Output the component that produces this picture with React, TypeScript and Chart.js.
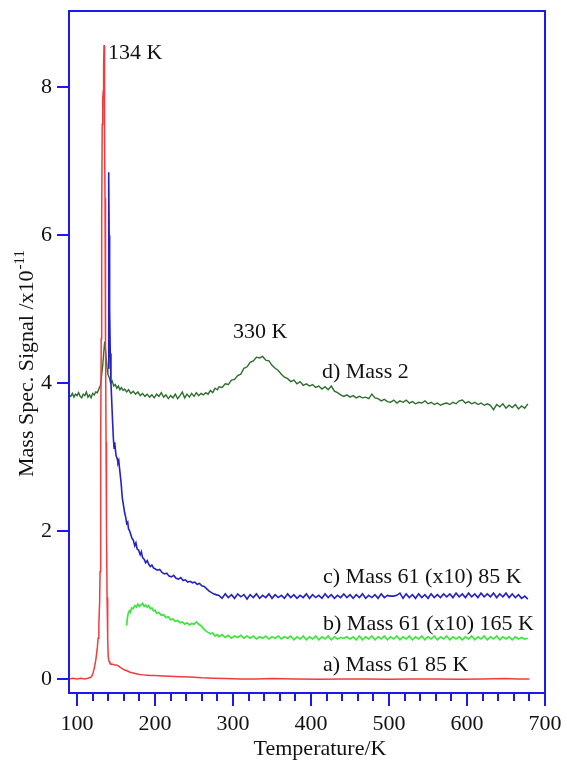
import React, { useEffect, useRef } from 'react';
import { Chart, registerables } from 'chart.js';

Chart.register(...registerables);

const FONT = '"Liberation Serif", "Times New Roman", serif';
const W = 567;
const H = 761;
const AREA = { left: 69, top: 11, right: 545, bottom: 693 };
const FRAME = '#1a1aee';

// axis ranges and ticks
const xRange = [89.7, 700];
const yRange = [-0.19, 9.03];
const xMajorTicks = [100, 200, 300, 400, 500, 600, 700];
const xMinorTicks = [120, 140, 160, 180, 220, 240, 260, 280, 320, 340, 360, 380, 420, 440, 460, 480, 520, 540, 560, 580, 620, 640, 660, 680];
const yTicks = [0, 2, 4, 6, 8];

// a) Mass 61 85 K
const tempsA = [89.5, 95, 100, 105, 110, 114, 117, 119, 120.5, 122, 124, 126, 127, 128, 129, 129.5, 130.3, 131, 131.6, 132.3, 133, 133.6, 134.1, 134.6, 135.1, 135.5, 135.9, 136.5, 137.2, 137.8, 138.5, 139.3, 140, 141, 142, 144, 146, 148, 150, 152.6, 155, 158, 161, 164, 168, 172, 176, 180, 185, 190, 195, 200, 210, 220, 232, 245, 260, 275, 290, 310, 330, 350, 380, 410, 440, 470, 500, 530, 560, 590, 620, 650, 665, 680];
const valuesA = [0.0, 0.01, 0.0, 0.01, 0.0, 0.01, 0.02, 0.04, 0.08, 0.14, 0.25, 0.42, 0.55, 0.75, 1.05, 1.45, 3.2, 4.6, 6.2, 7.5, 7.85, 7.95, 8.3, 8.57, 8.0, 7.3, 6.5, 4.6, 3.2, 2.0, 1.1, 0.55, 0.3, 0.24, 0.22, 0.2, 0.2, 0.19, 0.19, 0.18, 0.16, 0.14, 0.12, 0.11, 0.09, 0.08, 0.07, 0.06, 0.055, 0.05, 0.045, 0.045, 0.04, 0.035, 0.03, 0.025, 0.015, 0.01, 0.005, 0.0, 0.0, 0.005, 0.0, -0.005, 0.0, 0.0, -0.005, 0.0, 0.0, -0.005, 0.0, 0.005, 0.0, 0.0];

// shared temperature grid for the flat, noisy tails (K)
const tailTemps = [
  282, 286, 290, 294, 298, 302, 306, 310, 314, 318,
  322, 326, 330, 334, 338, 342, 346, 350, 354, 358,
  362, 366, 370, 374, 378, 382, 386, 390, 394, 398,
  402, 406, 410, 414, 418, 422, 426, 430, 434, 438,
  442, 446, 450, 454, 458, 462, 466, 470, 474, 478,
  482, 486, 490, 494, 498, 502, 506, 510, 514, 518,
  522, 526, 530, 534, 538, 542, 546, 550, 554, 558,
  562, 566, 570, 574, 578, 582, 586, 590, 594, 598,
  602, 606, 610, 614, 618, 622, 626, 630, 634, 638,
  642, 646, 650, 654, 658, 662, 666, 670, 674, 678,
];

// c) Mass 61 (x10) 85 K
const tempsC = [140.3, 140.6, 141.2, 141.8, 142.6, 143.5, 144.5, 145.5, 146.6, 147.5, 148.3, 149.2, 150, 151.5, 152.5, 153.5, 155, 156.5, 158, 159.5, 161, 162.5, 163.7, 165, 166, 167.5, 169, 170.5, 172, 174, 175.5, 177, 179, 181, 182.5, 184, 186, 188, 190, 192, 194, 196, 198, 200, 203, 206, 209, 212, 215, 218, 221, 224, 227, 230, 233, 236, 239, 242, 245, 248, 251, 254, 257, 260, 263, 266, 269, 272, 275, 278];
const valuesC = [4.2, 6.85, 6.0, 5.0, 4.4, 4.0, 3.75, 3.5, 3.25, 3.12, 3.2, 3.1, 3.02, 2.98, 2.92, 2.95, 2.8, 2.65, 2.45, 2.35, 2.25, 2.18, 2.1, 2.12, 2.03, 2.0, 1.95, 1.9, 1.88, 1.8, 1.84, 1.76, 1.74, 1.68, 1.72, 1.64, 1.62, 1.57, 1.6, 1.55, 1.52, 1.54, 1.5, 1.49, 1.47, 1.48, 1.44, 1.42, 1.43, 1.39, 1.38, 1.4, 1.36, 1.35, 1.37, 1.33, 1.34, 1.31, 1.32, 1.3, 1.31, 1.28, 1.29, 1.26, 1.25, 1.22, 1.19, 1.17, 1.15, 1.14];
const tailC = [
  1.13, 1.09, 1.15, 1.10, 1.14, 1.09, 1.15, 1.11, 1.14, 1.08,
  1.14, 1.10, 1.15, 1.09, 1.13, 1.10, 1.15, 1.09, 1.14, 1.10,
  1.13, 1.09, 1.15, 1.10, 1.14, 1.09, 1.13, 1.10, 1.15, 1.09,
  1.14, 1.10, 1.13, 1.09, 1.15, 1.10, 1.14, 1.09, 1.13, 1.10,
  1.15, 1.10, 1.14, 1.09, 1.14, 1.10, 1.15, 1.09, 1.13, 1.10,
  1.14, 1.09, 1.15, 1.10, 1.13, 1.12, 1.12, 1.13, 1.16, 1.09,
  1.15, 1.10, 1.14, 1.09, 1.15, 1.10, 1.14, 1.09, 1.15, 1.10,
  1.14, 1.10, 1.15, 1.11, 1.15, 1.10, 1.16, 1.11, 1.15, 1.10,
  1.16, 1.11, 1.15, 1.10, 1.16, 1.11, 1.15, 1.11, 1.16, 1.10,
  1.15, 1.11, 1.16, 1.10, 1.15, 1.10, 1.14, 1.09, 1.12, 1.08,
];

// b) Mass 61 (x10) 165 K
const tempsB = [163.6, 164.5, 165.5, 167, 168.5, 170, 172, 174, 176, 178, 180, 182, 184, 186, 188, 190, 192, 194, 196, 198, 200, 202, 205, 208, 211, 214, 217, 220, 223, 226, 229, 232, 235, 238, 241, 244, 247, 250, 253, 256, 259, 262, 265, 268, 271, 274, 277, 280];
const valuesB = [0.72, 0.82, 0.88, 0.92, 0.9, 0.96, 0.95, 0.99, 0.97, 1.01, 0.98, 1.0, 1.02, 0.98, 1.0, 0.97, 0.99, 0.95, 0.96, 0.92, 0.93, 0.89, 0.9, 0.86, 0.87, 0.83, 0.84, 0.8, 0.81, 0.78, 0.79, 0.76, 0.77, 0.74, 0.76, 0.73, 0.75, 0.74, 0.77, 0.74, 0.72, 0.68, 0.65, 0.63, 0.61, 0.62, 0.58, 0.6];
const tailB = [
  0.57, 0.60, 0.56, 0.59, 0.55, 0.58, 0.56, 0.59, 0.55, 0.58,
  0.55, 0.58, 0.54, 0.57, 0.55, 0.58, 0.54, 0.57, 0.55, 0.58,
  0.54, 0.57, 0.55, 0.58, 0.53, 0.57, 0.54, 0.58, 0.53, 0.57,
  0.54, 0.58, 0.53, 0.57, 0.54, 0.58, 0.53, 0.57, 0.54, 0.56,
  0.55, 0.57, 0.54, 0.57, 0.53, 0.58, 0.53, 0.57, 0.54, 0.58,
  0.53, 0.57, 0.54, 0.58, 0.53, 0.57, 0.54, 0.58, 0.53, 0.57,
  0.54, 0.58, 0.53, 0.57, 0.54, 0.58, 0.53, 0.57, 0.54, 0.58,
  0.53, 0.57, 0.54, 0.58, 0.53, 0.57, 0.54, 0.57, 0.53, 0.57,
  0.54, 0.58, 0.53, 0.57, 0.54, 0.58, 0.53, 0.57, 0.54, 0.58,
  0.53, 0.57, 0.54, 0.57, 0.53, 0.57, 0.54, 0.56, 0.54, 0.55,
];

// d) Mass 2
const tempsD = [90, 92, 94, 96, 98, 100, 102, 104, 106, 108, 110, 112, 114, 116, 118, 120, 122, 124, 126, 128, 130, 131.5, 133, 134.5, 135.5, 136.5, 137.5, 138.5, 139.5, 141.5, 143, 145, 147, 149, 151, 153, 155, 157, 159, 161, 163.6, 166, 169, 172, 175, 178, 181, 184, 187, 190, 193, 196, 199, 202, 205, 208, 211, 214, 217, 220, 223, 226, 229, 232, 235, 238, 241, 244, 247, 250, 253, 256, 259, 262, 265, 268, 271, 274, 277, 280];
const valuesD = [3.84, 3.82, 3.86, 3.81, 3.85, 3.83, 3.87, 3.82, 3.8, 3.85, 3.83, 3.88, 3.81, 3.84, 3.8, 3.86, 3.84, 3.88, 3.87, 3.92, 3.97, 4.1, 4.25, 4.45, 4.56, 4.45, 4.32, 4.2, 4.12, 4.07, 4.0, 4.03, 3.96, 3.98, 3.93, 3.96, 3.91, 3.94, 3.9, 3.92, 3.88, 3.91, 3.86, 3.89, 3.85, 3.88, 3.83, 3.86, 3.82, 3.85, 3.81, 3.84, 3.8, 3.85, 3.82, 3.87, 3.81, 3.84, 3.79, 3.83, 3.8, 3.85, 3.79, 3.83, 3.88, 3.8, 3.85, 3.81, 3.86, 3.82, 3.87, 3.83, 3.86, 3.84, 3.87, 3.85, 3.9, 3.87, 3.93, 3.91];
const tailD = [
  3.95, 3.94, 3.99, 3.98, 4.04, 4.05, 4.10, 4.12, 4.20, 4.22,
  4.28, 4.30, 4.35, 4.34, 4.36, 4.31, 4.30, 4.24, 4.20, 4.17,
  4.12, 4.08, 4.06, 4.02, 4.04, 3.99, 4.02, 3.97, 3.99, 3.96,
  3.98, 3.94, 3.96, 3.92, 3.95, 3.91, 3.96, 3.89, 3.87, 3.84,
  3.82, 3.84, 3.81, 3.83, 3.80, 3.82, 3.80, 3.81, 3.79, 3.85,
  3.80, 3.79, 3.76, 3.78, 3.75, 3.74, 3.77, 3.73, 3.76, 3.74,
  3.77, 3.73, 3.75, 3.72, 3.74, 3.73, 3.76, 3.72, 3.74, 3.71,
  3.73, 3.70, 3.72, 3.73, 3.71, 3.74, 3.72, 3.76, 3.77, 3.73,
  3.75, 3.72, 3.74, 3.71, 3.73, 3.70, 3.72, 3.70, 3.64, 3.71,
  3.68, 3.72, 3.66, 3.70, 3.67, 3.71, 3.65, 3.69, 3.66, 3.72,
];

// annotation texts and their anchors (data coordinates)
const annoTexts = ['134 K', '330 K', 'd) Mass 2', 'c) Mass 61 (x10) 85 K', 'b) Mass 61 (x10) 165 K', 'a) Mass 61 85 K'];
const annoTemps = [139.7, 300, 414, 415.4, 415.4, 415.4];
const annoValues = [8.46, 4.69, 4.15, 1.38, 0.74, 0.19];

const xTitle = 'Temperature/K';
const yTitleMain = 'Mass Spec. Signal /x10';
const yTitleSup = '-11';

function toPoints(ts: number[], vs: number[]) {
  const n = Math.min(ts.length, vs.length);
  const out: { x: number; y: number }[] = [];
  for (let i = 0; i < n; i++) out.push({ x: ts[i], y: vs[i] });
  return out;
}

const decorPlugin = {
  id: 'decor',
  afterDraw(chart: any) {
    const ctx = chart.ctx;
    const ca = chart.chartArea;
    const xs = chart.scales.x;
    const ys = chart.scales.y;
    ctx.save();
    // frame
    ctx.strokeStyle = FRAME;
    ctx.lineWidth = 2;
    ctx.strokeRect(ca.left, ca.top, ca.right - ca.left, ca.bottom - ca.top);
    // minor x ticks
    ctx.beginPath();
    for (const t of xMinorTicks) {
      const px = Math.round(xs.getPixelForValue(t));
      ctx.moveTo(px, ca.bottom);
      ctx.lineTo(px, ca.bottom + 8);
    }
    ctx.stroke();
    // annotations
    ctx.fillStyle = '#111';
    ctx.font = `22px ${FONT}`;
    ctx.textAlign = 'left';
    ctx.textBaseline = 'middle';
    annoTexts.forEach((txt, i) => {
      ctx.fillText(txt, xs.getPixelForValue(annoTemps[i]), ys.getPixelForValue(annoValues[i]));
    });
    // x title
    ctx.textAlign = 'center';
    ctx.textBaseline = 'alphabetic';
    ctx.fillText(xTitle, 320, 755);
    // y title with superscript
    ctx.translate(33, 477);
    ctx.rotate(-Math.PI / 2);
    ctx.textAlign = 'left';
    ctx.font = `22px ${FONT}`;
    ctx.fillText(yTitleMain, 0, 0);
    const w = ctx.measureText(yTitleMain).width;
    ctx.font = `15px ${FONT}`;
    ctx.fillText(yTitleSup, w + 1, -9);
    ctx.restore();
  },
};

export default function App() {
  const ref = useRef<HTMLCanvasElement>(null);
  useEffect(() => {
    const canvas = ref.current;
    if (!canvas) return;
    const line = (label: string, data: any[], color: string, order: number, width = 1.4) => ({
      label,
      data,
      borderColor: color,
      backgroundColor: color,
      borderWidth: width,
      pointRadius: 0,
      tension: 0,
      fill: false,
      order,
    });
    const chart = new Chart(canvas, {
      type: 'line',
      data: {
        datasets: [
          line('a) Mass 61 85 K', toPoints(tempsA, valuesA), '#f03c3c', 0, 1.5),
          line('c) Mass 61 (x10) 85 K', toPoints(tempsC.concat(tailTemps), valuesC.concat(tailC)), '#2323c4', 1, 1.6),
          line('b) Mass 61 (x10) 165 K', toPoints(tempsB.concat(tailTemps), valuesB.concat(tailB)), '#3ce63c', 2, 1.7),
          line('d) Mass 2', toPoints(tempsD.concat(tailTemps), valuesD.concat(tailD)), '#2c6e2c', 3, 1.4),
        ],
      },
      options: {
        responsive: false,
        animation: false,
        devicePixelRatio: 1,
        parsing: false as any,
        layout: { padding: { left: 0, top: AREA.top, right: W - AREA.right, bottom: 0 } },
        plugins: { legend: { display: false }, tooltip: { enabled: false }, title: { display: false } },
        scales: {
          x: {
            type: 'linear',
            min: xRange[0],
            max: xRange[1],
            afterBuildTicks: (s: any) => { s.ticks = xMajorTicks.map((v) => ({ value: v })); },
            afterFit: (s: any) => { s.height = H - AREA.bottom; s.paddingLeft = 0; s.paddingRight = 0; },
            ticks: {
              autoSkip: false,
              maxRotation: 0,
              padding: 5,
              color: '#111',
              font: { family: FONT, size: 22 },
              callback: (v: any) => String(v),
            },
            grid: { drawOnChartArea: false, drawTicks: true, tickLength: 13, color: FRAME, lineWidth: 2 },
            border: { display: true, color: FRAME, width: 2 },
          },
          y: {
            type: 'linear',
            min: yRange[0],
            max: yRange[1],
            afterBuildTicks: (s: any) => { s.ticks = yTicks.map((v) => ({ value: v })); },
            afterFit: (s: any) => { s.width = AREA.left; s.paddingTop = 0; s.paddingBottom = 0; },
            ticks: {
              padding: 5,
              color: '#111',
              font: { family: FONT, size: 22 },
              callback: (v: any) => String(v),
            },
            grid: { drawOnChartArea: false, drawTicks: true, tickLength: 12, color: FRAME, lineWidth: 2 },
            border: { display: true, color: FRAME, width: 2 },
          },
        },
      },
      plugins: [decorPlugin],
    });
    return () => chart.destroy();
  }, []);
  return (
    <div style={{ position: 'absolute', left: 0, top: 0, width: W, height: H, background: '#fff' }}>
      <canvas ref={ref} width={W} height={H} style={{ display: 'block', width: W, height: H }} />
    </div>
  );
}
